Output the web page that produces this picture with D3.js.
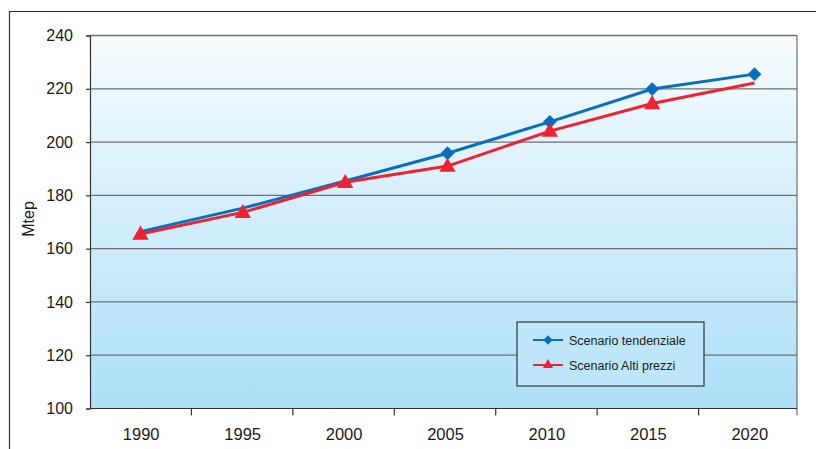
<!DOCTYPE html>
<html>
<head>
<meta charset="utf-8">
<script src="https://cdn.jsdelivr.net/npm/d3@7"></script>
<style>
  html, body { margin: 0; padding: 0; background: #ffffff; }
  svg { display: block; font-family: "Liberation Sans", Arial, Helvetica, sans-serif; }
</style>
</head>
<body>
<svg id="chart" width="816" height="449"></svg>
<script>
// ---- data ----
const years = ["1990", "1995", "2000", "2005", "2010", "2015", "2020"];
const tendenziale = [166.4, 175.2, 185.4, 195.8, 207.6, 219.9, 225.5];
const altiPrezzi = [165.5, 173.6, 184.9, 191.0, 204.1, 214.5, 222.2];
const tendenzialeMarkers = [false, false, false, true, true, true, true];
const altiPrezziMarkers = [true, true, true, true, true, true, false];
const yTicks = [100, 120, 140, 160, 180, 200, 220, 240];
const seriesNames = ["Scenario tendenziale", "Scenario Alti prezzi"];
const yTitle = "Mtep";

// ---- layout ----
const svg = d3.select("#chart");
const mLeft = 90, mRight = 797, mTop = 35.5, mBottom = 408.5;
const blue = "#0a6fbb", red = "#ee2231";

const x = d3.scaleBand().domain(years).range([mLeft, mRight + 3]).padding(0);
const xp = d3.scalePoint().domain(years).range([140.5, 754.5]);
const y = d3.scaleLinear().domain([100, 240]).range([mBottom, mTop]);

// outer frame
svg.append("path")
  .attr("d", "M9.5,449 L9.5,11.5 L816,11.5")
  .attr("fill", "none").attr("stroke", "#333").attr("stroke-width", 1.2);

// gradient background
const defs = svg.append("defs");
const grad = defs.append("linearGradient").attr("id", "bg").attr("x1", 0).attr("y1", 0).attr("x2", 0).attr("y2", 1);
grad.append("stop").attr("offset", "0%").attr("stop-color", "#f7fcff");
grad.append("stop").attr("offset", "100%").attr("stop-color", "#acdff7");
svg.append("rect")
  .attr("x", mLeft).attr("y", mTop).attr("width", mRight - mLeft).attr("height", mBottom - mTop)
  .attr("fill", "url(#bg)");

// gridlines
svg.append("g").selectAll("line").data(yTicks.filter(d => d > 100)).join("line")
  .attr("x1", mLeft).attr("x2", mRight)
  .attr("y1", d => y(d)).attr("y2", d => y(d))
  .attr("stroke", "#707070").attr("stroke-width", 1.3);

// right border
svg.append("line").attr("x1", mRight).attr("x2", mRight).attr("y1", mTop).attr("y2", mBottom + 7)
  .attr("stroke", "#555").attr("stroke-width", 1);

// y axis
const yAxis = svg.append("g").attr("transform", `translate(${mLeft},0)`)
  .call(d3.axisLeft(y).tickValues(yTicks).tickSize(4).tickPadding(13).tickFormat(d3.format("d")));
yAxis.select(".domain").attr("stroke", "#333").attr("stroke-width", 1.2);
yAxis.selectAll(".tick line").attr("stroke", "#333").attr("stroke-width", 1.2);
yAxis.selectAll("text").attr("font-size", 16).attr("fill", "#1a1a1a")
  .attr("font-family", "'Liberation Sans', Arial, sans-serif");

// x axis (ticks at category boundaries)
const xAxisG = svg.append("g").attr("transform", `translate(0,${mBottom})`);
xAxisG.append("line").attr("x1", mLeft).attr("x2", mRight).attr("y1", 0).attr("y2", 0)
  .attr("stroke", "#333").attr("stroke-width", 1.2);
const boundaries = years.slice(1).map(d => x(d));
xAxisG.selectAll("line.tk").data(boundaries).join("line").attr("class", "tk")
  .attr("x1", d => d).attr("x2", d => d).attr("y1", 0).attr("y2", 7)
  .attr("stroke", "#333").attr("stroke-width", 1.2);
xAxisG.selectAll("text").data(years).join("text")
  .attr("x", d => x(d) + x.bandwidth() / 2 + 0.5).attr("y", 31)
  .attr("text-anchor", "middle").attr("font-size", 16.5).attr("fill", "#1a1a1a")
  .text(d => d);

// y title
svg.append("text")
  .attr("transform", "translate(33.5,219) rotate(-90)")
  .attr("text-anchor", "middle").attr("font-size", 16).attr("fill", "#1a1a1a")
  .text(yTitle);

// lines
const line = d3.line().x(d => xp(d.year)).y(d => y(d.value));
const tData = years.map((yr, i) => ({ year: yr, value: tendenziale[i], mark: tendenzialeMarkers[i] }));
const aData = years.map((yr, i) => ({ year: yr, value: altiPrezzi[i], mark: altiPrezziMarkers[i] }));

svg.append("path").datum(tData).attr("d", line)
  .attr("fill", "none").attr("stroke", blue).attr("stroke-width", 3);
svg.append("path").datum(aData).attr("d", line)
  .attr("fill", "none").attr("stroke", red).attr("stroke-width", 3);

const diamond = d3.symbol().type(d3.symbolSquare).size(95);
const triangle = d3.symbol().type(d3.symbolTriangle).size(115);

svg.append("g").selectAll("path").data(tData.filter(d => d.mark)).join("path")
  .attr("d", diamond)
  .attr("transform", d => `translate(${xp(d.year)},${y(d.value)}) rotate(45)`)
  .attr("fill", blue);
svg.append("g").selectAll("path").data(aData.filter(d => d.mark)).join("path")
  .attr("d", triangle)
  .attr("transform", d => `translate(${xp(d.year)},${y(d.value) + 1})`)
  .attr("fill", red);

// legend
const lg = svg.append("g").attr("transform", "translate(517,322)");
lg.append("rect").attr("width", 187).attr("height", 64)
  .attr("fill", "#bde6f9").attr("stroke", "#333").attr("stroke-width", 1.2);
const items = [
  { name: seriesNames[0], color: blue, sym: d3.symbol().type(d3.symbolSquare).size(45), rot: 45 },
  { name: seriesNames[1], color: red, sym: d3.symbol().type(d3.symbolTriangle).size(45), rot: 0 }
];
const li = lg.selectAll("g.item").data(items).join("g").attr("class", "item")
  .attr("transform", (d, i) => `translate(0,${18 + i * 25})`);
li.append("line").attr("x1", 16).attr("x2", 46).attr("y1", 0).attr("y2", 0)
  .attr("stroke", d => d.color).attr("stroke-width", 2);
li.append("path").attr("d", d => d.sym())
  .attr("transform", d => `translate(31,0) rotate(${d.rot})`)
  .attr("fill", d => d.color);
li.append("text").attr("x", 52).attr("y", 4.5)
  .attr("font-size", 12.5).attr("fill", "#1a1a1a")
  .text(d => d.name);
</script>
</body>
</html>
